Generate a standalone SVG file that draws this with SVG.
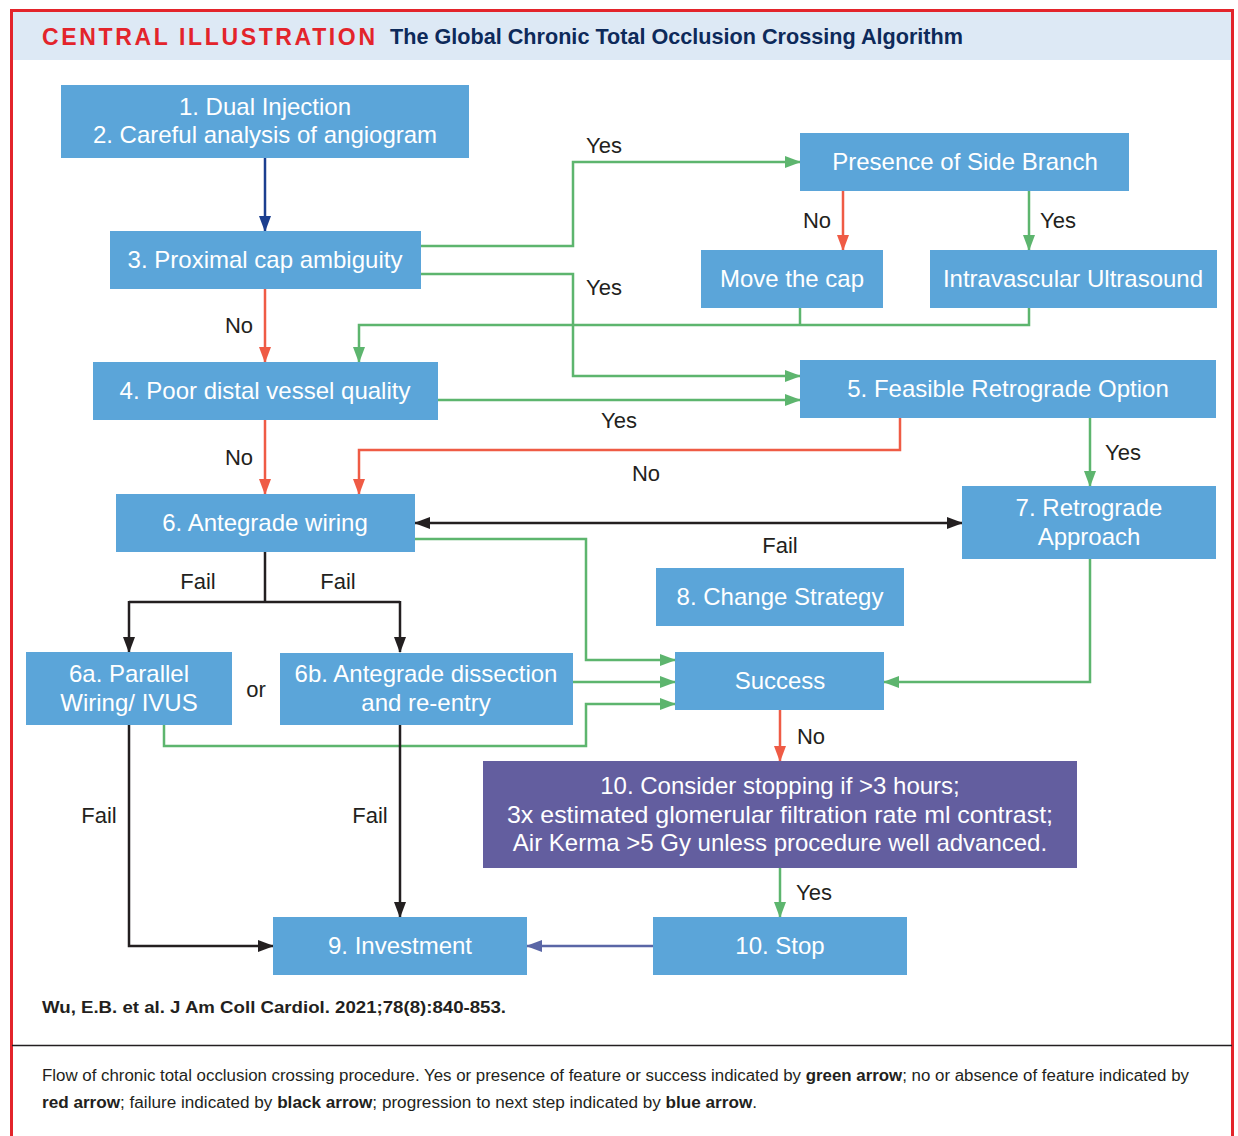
<svg xmlns="http://www.w3.org/2000/svg" width="1238" height="1136" viewBox="0 0 1238 1136">
<style>
.node{fill:#5ba5d9}
.purple{fill:#635e9f}
.nt{font-family:"Liberation Sans",Arial,sans-serif;font-size:24px;fill:#ffffff;text-anchor:middle}
.lbl{font-family:"Liberation Sans",Arial,sans-serif;font-size:22px;fill:#231f20;text-anchor:middle}
.g{stroke:#5db56e;stroke-width:2.5;fill:none}
.r{stroke:#ef5b45;stroke-width:2.5;fill:none}
.k{stroke:#231f20;stroke-width:2.5;fill:none}
.b{stroke:#1c3f8f;stroke-width:2.5;fill:none}
.p{stroke:#5a66a6;stroke-width:2.5;fill:none}
.cap{font-family:"Liberation Sans",Arial,sans-serif;font-size:16px;fill:#231f20}
</style>
<defs>
<marker id="ag" markerUnits="userSpaceOnUse" markerWidth="16" markerHeight="12" refX="15" refY="6" orient="auto"><path d="M0,0 L16,6 L0,12 z" fill="#5db56e"/></marker>
<marker id="ar" markerUnits="userSpaceOnUse" markerWidth="16" markerHeight="12" refX="15" refY="6" orient="auto"><path d="M0,0 L16,6 L0,12 z" fill="#ef5b45"/></marker>
<marker id="ak" markerUnits="userSpaceOnUse" markerWidth="16" markerHeight="12" refX="15" refY="6" orient="auto-start-reverse"><path d="M0,0 L16,6 L0,12 z" fill="#231f20"/></marker>
<marker id="ab" markerUnits="userSpaceOnUse" markerWidth="16" markerHeight="12" refX="15" refY="6" orient="auto"><path d="M0,0 L16,6 L0,12 z" fill="#1c3f8f"/></marker>
<marker id="ap" markerUnits="userSpaceOnUse" markerWidth="16" markerHeight="12" refX="15" refY="6" orient="auto"><path d="M0,0 L16,6 L0,12 z" fill="#5a66a6"/></marker>
</defs>
<rect x="0" y="0" width="1238" height="1136" fill="#ffffff"/>
<!-- frame -->
<rect x="12" y="12" width="1219" height="48" fill="#dde9f5"/>
<path d="M11.5,1136 V10.5 H1232.5 V1136" fill="none" stroke="#e3242b" stroke-width="3"/>
<text x="42" y="45" font-family="'Liberation Sans',Arial,sans-serif" font-size="23" font-weight="bold" fill="#e3242b" textLength="333" lengthAdjust="spacing">CENTRAL ILLUSTRATION</text>
<text x="390" y="44" font-family="'Liberation Sans',Arial,sans-serif" font-size="22" font-weight="bold" fill="#0d2a5a" textLength="573" lengthAdjust="spacingAndGlyphs">The Global Chronic Total Occlusion Crossing Algorithm</text>

<g id="connectors">
<path class="b" d="M265,158 V231" marker-end="url(#ab)"/>
<path class="r" d="M265,289 V362" marker-end="url(#ar)"/>
<path class="g" d="M421,246 H573 V162 H800" marker-end="url(#ag)"/>
<path class="g" d="M421,274 H573 V376 H800" marker-end="url(#ag)"/>
<path class="r" d="M843,191 V250" marker-end="url(#ar)"/>
<path class="g" d="M1029,191 V250" marker-end="url(#ag)"/>
<path class="g" d="M800,308 V325"/>
<path class="g" d="M1029,308 V325 H359 V362" marker-end="url(#ag)"/>
<path class="g" d="M438,400 H800" marker-end="url(#ag)"/>
<path class="r" d="M900,418 V450 H359 V494" marker-end="url(#ar)"/>
<path class="r" d="M265,420 V494" marker-end="url(#ar)"/>
<path class="g" d="M1090,418 V486" marker-end="url(#ag)"/>
<path class="k" d="M415,523 H962" marker-start="url(#ak)" marker-end="url(#ak)"/>
<path class="g" d="M415,539 H586 V660 H675" marker-end="url(#ag)"/>
<path class="k" d="M265,552 V602"/>
<path class="k" d="M129,602 H400"/>
<path class="k" d="M129,601 V652" marker-end="url(#ak)"/>
<path class="k" d="M400,601 V652" marker-end="url(#ak)"/>
<path class="g" d="M573,682 H675" marker-end="url(#ag)"/>
<path class="g" d="M164,725 V746 H586 V704 H675" marker-end="url(#ag)"/>
<path class="g" d="M1090,559 V682 H884" marker-end="url(#ag)"/>
<path class="r" d="M780,710 V761" marker-end="url(#ar)"/>
<path class="g" d="M780,868 V917" marker-end="url(#ag)"/>
<path class="p" d="M653,946 H527" marker-end="url(#ap)"/>
<path class="k" d="M129,725 V946 H273" marker-end="url(#ak)"/>
<path class="k" d="M400,725 V917" marker-end="url(#ak)"/>
</g>

<g id="labels">
<text class="lbl" x="604" y="153">Yes</text>
<text class="lbl" x="604" y="295">Yes</text>
<text class="lbl" x="817" y="228">No</text>
<text class="lbl" x="1058" y="228">Yes</text>
<text class="lbl" x="239" y="333">No</text>
<text class="lbl" x="619" y="428">Yes</text>
<text class="lbl" x="239" y="465">No</text>
<text class="lbl" x="646" y="481">No</text>
<text class="lbl" x="1123" y="460">Yes</text>
<text class="lbl" x="780" y="553">Fail</text>
<text class="lbl" x="198" y="589">Fail</text>
<text class="lbl" x="338" y="589">Fail</text>
<text class="lbl" x="256" y="697">or</text>
<text class="lbl" x="811" y="744">No</text>
<text class="lbl" x="814" y="900">Yes</text>
<text class="lbl" x="99" y="823">Fail</text>
<text class="lbl" x="370" y="823">Fail</text>
</g>

<g id="n1"><rect class="node" x="61" y="85" width="408" height="73"/><text class="nt" x="265" y="115">1. Dual Injection</text><text class="nt" x="265" y="143">2. Careful analysis of angiogram</text></g>
<g id="n3"><rect class="node" x="110" y="231" width="311" height="58"/><text class="nt" x="265" y="268">3. Proximal cap ambiguity</text></g>
<g id="nSide"><rect class="node" x="800" y="133" width="329" height="58"/><text class="nt" x="965" y="170">Presence of Side Branch</text></g>
<g id="nMove"><rect class="node" x="701" y="250" width="182" height="58"/><text class="nt" x="792" y="287">Move the cap</text></g>
<g id="nIVUS"><rect class="node" x="930" y="250" width="287" height="58"/><text class="nt" x="1073" y="287">Intravascular Ultrasound</text></g>
<g id="n4"><rect class="node" x="93" y="362" width="345" height="58"/><text class="nt" x="265" y="399">4. Poor distal vessel quality</text></g>
<g id="n5"><rect class="node" x="800" y="360" width="416" height="58"/><text class="nt" x="1008" y="397">5. Feasible Retrograde Option</text></g>
<g id="n6"><rect class="node" x="116" y="494" width="299" height="58"/><text class="nt" x="265" y="531">6. Antegrade wiring</text></g>
<g id="n7"><rect class="node" x="962" y="486" width="254" height="73"/><text class="nt" x="1089" y="516">7. Retrograde</text><text class="nt" x="1089" y="545">Approach</text></g>
<g id="n8"><rect class="node" x="656" y="568" width="248" height="58"/><text class="nt" x="780" y="605">8. Change Strategy</text></g>
<g id="n6a"><rect class="node" x="26" y="652" width="206" height="73"/><text class="nt" x="129" y="682">6a. Parallel</text><text class="nt" x="129" y="711">Wiring/ IVUS</text></g>
<g id="n6b"><rect class="node" x="280" y="653" width="293" height="72"/><text class="nt" x="426" y="682">6b. Antegrade dissection</text><text class="nt" x="426" y="711">and re-entry</text></g>
<g id="nSuccess"><rect class="node" x="675" y="652" width="209" height="58"/><text class="nt" x="780" y="689">Success</text></g>
<g id="n10c"><rect class="purple" x="483" y="761" width="594" height="107"/><text class="nt" x="780" y="794">10. Consider stopping if &gt;3 hours;</text><text class="nt" x="780" y="823" textLength="546" lengthAdjust="spacingAndGlyphs">3x estimated glomerular filtration rate ml contrast;</text><text class="nt" x="780" y="851">Air Kerma &gt;5 Gy unless procedure well advanced.</text></g>
<g id="n9"><rect class="node" x="273" y="917" width="254" height="58"/><text class="nt" x="400" y="954">9. Investment</text></g>
<g id="n10s"><rect class="node" x="653" y="917" width="254" height="58"/><text class="nt" x="780" y="954">10. Stop</text></g>

<text x="42" y="1013" font-family="'Liberation Sans',Arial,sans-serif" font-size="17" font-weight="bold" fill="#231f20" textLength="464" lengthAdjust="spacingAndGlyphs">Wu, E.B. et al. J Am Coll Cardiol. 2021;78(8):840-853.</text>
<line x1="12" y1="1045.5" x2="1232" y2="1045.5" stroke="#231f20" stroke-width="1.5"/>
<text class="cap" x="42" y="1081" textLength="1147" lengthAdjust="spacingAndGlyphs">Flow of chronic total occlusion crossing procedure. Yes or presence of feature or success indicated by <tspan font-weight="bold">green arrow</tspan>; no or absence of feature indicated by</text>
<text class="cap" x="42" y="1108" textLength="715" lengthAdjust="spacingAndGlyphs"><tspan font-weight="bold">red arrow</tspan>; failure indicated by <tspan font-weight="bold">black arrow</tspan>; progression to next step indicated by <tspan font-weight="bold">blue arrow</tspan>.</text>
</svg>
